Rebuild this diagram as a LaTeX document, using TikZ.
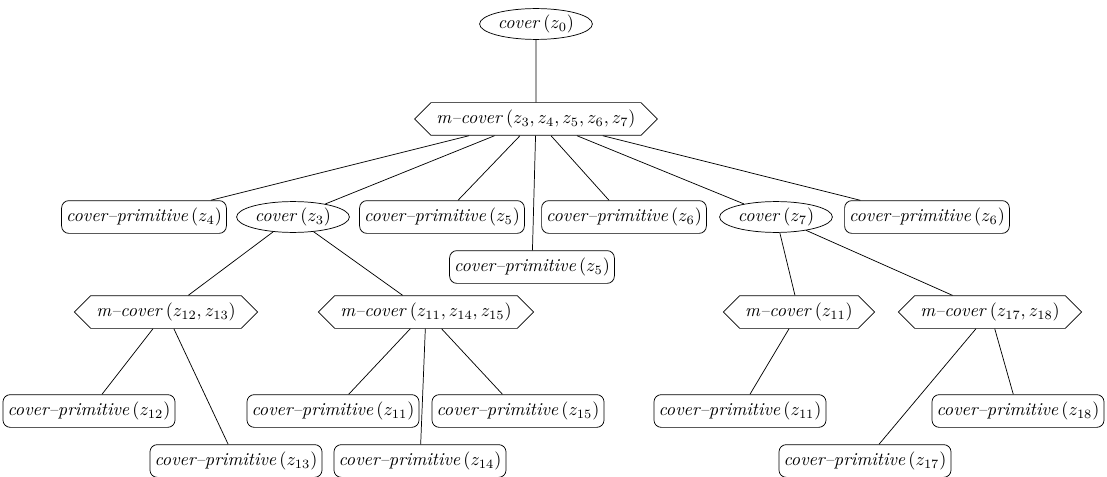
\documentclass[tikz,border=0pt]{standalone}
\usepackage{tikz}
\usetikzlibrary{shapes.geometric,shapes.symbols}
\tikzset{
  prim/.style={draw,rounded corners=4pt,inner xsep=2.5pt,inner ysep=4pt},
  cov/.style={draw,ellipse,inner sep=1pt},
  mcov/.style={draw,signal,signal to=west and east,inner xsep=3pt,inner ysep=4pt},
  link/.style={color=black}
}
\newcommand{\cterm}[2]{\textit{#1}\,$(#2)$}
\begin{document}
\begin{tikzpicture}[x=0.55pt,y=-0.55pt]
  \useasboundingbox (0,0) rectangle (1107,477);
  % top
  \node[cov] (root) at (536,24) {\cterm{cover}{z_0}};
  \node[mcov] (mc) at (536,119) {\cterm{m--cover}{z_3, z_4, z_5, z_6, z_7}};
  % second level
  \node[prim] (p4) at (144,217) {\cterm{cover--primitive}{z_4}};
  \node[cov] (c3) at (293,217) {\cterm{cover}{z_3}};
  \node[prim] (p5) at (442,217) {\cterm{cover--primitive}{z_5}};
  \node[prim] (p5b) at (532,267) {\cterm{cover--primitive}{z_5}};
  \node[prim] (p6) at (624,217) {\cterm{cover--primitive}{z_6}};
  \node[cov] (c7) at (776,217) {\cterm{cover}{z_7}};
  \node[prim] (p6b) at (927,217) {\cterm{cover--primitive}{z_6}};
  % third level
  \node[mcov] (mc12) at (166,312) {\cterm{m--cover}{z_{12}, z_{13}}};
  \node[mcov] (mc11) at (426,312) {\cterm{m--cover}{z_{11}, z_{14}, z_{15}}};
  \node[mcov] (mc11b) at (799,312) {\cterm{m--cover}{z_{11}}};
  \node[mcov] (mc17) at (990,312) {\cterm{m--cover}{z_{17}, z_{18}}};
  % leaves
  \node[prim] (p12) at (89,411) {\cterm{cover--primitive}{z_{12}}};
  \node[prim] (p13) at (236,461) {\cterm{cover--primitive}{z_{13}}};
  \node[prim] (p11) at (333,411) {\cterm{cover--primitive}{z_{11}}};
  \node[prim] (p14) at (420,461) {\cterm{cover--primitive}{z_{14}}};
  \node[prim] (p15) at (518,411) {\cterm{cover--primitive}{z_{15}}};
  \node[prim] (p11b) at (740,411) {\cterm{cover--primitive}{z_{11}}};
  \node[prim] (p17) at (865,461) {\cterm{cover--primitive}{z_{17}}};
  \node[prim] (p18) at (1018,411) {\cterm{cover--primitive}{z_{18}}};
  % edges
  \draw[link] (root) -- (mc);
  \foreach \n in {p4,c3,p5,p5b,p6,c7,p6b}
    \draw[link] (mc) -- (\n);
  \draw[link] (c3) -- (mc12);
  \draw[link] (c3) -- (mc11);
  \draw[link] (c7) -- (mc11b);
  \draw[link] (c7) -- (mc17);
  \draw[link] (mc12) -- (p12);
  \draw[link] (mc12) -- (p13);
  \draw[link] (mc11) -- (p11);
  \draw[link] (mc11) -- (p14);
  \draw[link] (mc11) -- (p15);
  \draw[link] (mc11b) -- (p11b);
  \draw[link] (mc17) -- (p17);
  \draw[link] (mc17) -- (p18);
\end{tikzpicture}
\end{document}
